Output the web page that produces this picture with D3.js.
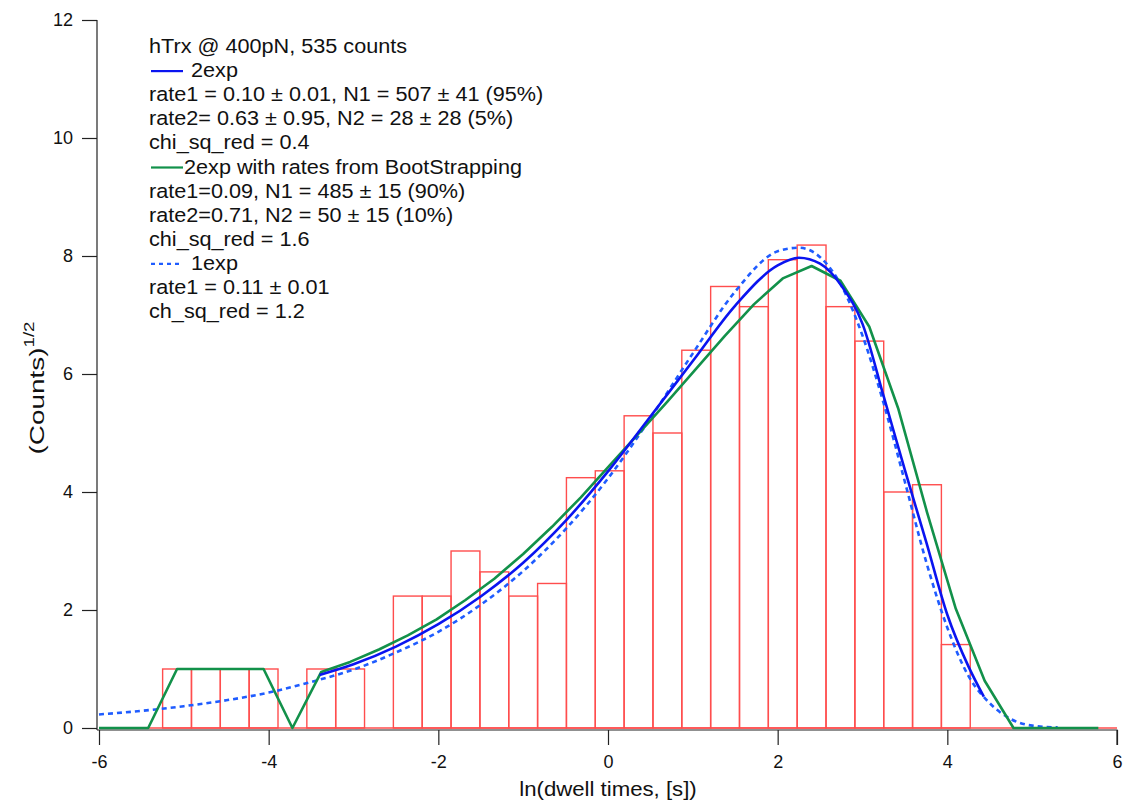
<!DOCTYPE html>
<html>
<head>
<meta charset="utf-8">
<script src="https://cdn.jsdelivr.net/npm/d3@7"></script>
<style>
  body { margin: 0; background: #fff; }
  svg { display: block; font-family: "Liberation Sans", Arial, sans-serif; }
</style>
</head>
<body>
<svg id="chart"></svg>
<script>
// histogram of ln(dwell times): bin edges and raw counts (plotted as sqrt)
const binEdges = [-5.25, -4.91, -4.57, -4.23, -3.89, -3.55, -3.21, -2.87, -2.53, -2.19,
  -1.85, -1.51, -1.17, -0.83, -0.49, -0.15, 0.19, 0.53, 0.87, 1.21, 1.55, 1.89, 2.23,
  2.57, 2.91, 3.25, 3.59, 3.93, 4.27];
const binCounts = [1, 1, 1, 1, 0, 1, 1, 0, 5, 5, 9, 7, 5, 6, 18, 19, 28, 25, 41, 56,
  51, 63, 67, 51, 43, 16, 17, 2];

// 2exp fit (blue solid)
const fit2X = [-3.40, -3.0, -2.5, -2.0, -1.5, -1.0, -0.5, 0.0, 0.5, 1.0, 1.5, 2.0, 2.25,
  2.5, 2.75, 3.0, 3.25, 3.5, 3.75, 4.0, 4.25, 4.43];
const fit2Y = [0.90, 1.08, 1.38, 1.76, 2.23, 2.80, 3.51, 4.35, 5.28, 6.22, 7.16, 7.84,
  7.97, 7.87, 7.50, 6.85, 5.62, 4.37, 3.16, 1.92, 1.04, 0.53];

// 2exp with bootstrapped rates (green), evaluated at bin centres
const bootX = [-6.0, -5.42, -5.08, -4.74, -4.40, -4.06, -3.72, -3.38, -3.04, -2.70, -2.36,
  -2.02, -1.68, -1.34, -1.00, -0.66, -0.32, 0.02, 0.36, 0.70, 1.04, 1.38, 1.72, 2.06,
  2.40, 2.74, 3.08, 3.42, 3.76, 4.10, 4.44, 4.78, 5.12, 5.46, 5.78];
const bootY = [0, 0, 1, 1, 1, 1, 0, 0.95, 1.12, 1.33, 1.57, 1.84, 2.17, 2.53, 2.95, 3.41,
  3.91, 4.45, 4.99, 5.53, 6.09, 6.65, 7.18, 7.62, 7.83, 7.58, 6.80, 5.42, 3.66, 2.02,
  0.80, 0, 0, 0, 0];

// 1exp fit (blue dashed)
const fit1X = [-6, -5.5, -5, -4.5, -4, -3.5, -3, -2.5, -2, -1.5, -1, -0.5, 0, 0.5, 1,
  1.5, 2, 2.25, 2.5, 2.75, 3, 3.25, 3.5, 3.75, 4, 4.25, 4.5, 4.75, 5, 5.3];
const fit1Y = [0.23, 0.29, 0.37, 0.47, 0.60, 0.78, 0.99, 1.28, 1.63, 2.09, 2.66, 3.37,
  4.23, 5.25, 6.35, 7.40, 8.08, 8.14, 7.98, 7.50, 6.65, 5.50, 4.17, 2.82, 1.70, 0.88,
  0.42, 0.15, 0.04, 0.01];

const xTicks = [-6, -4, -2, 0, 2, 4, 6];
const yTicks = [0, 2, 4, 6, 8, 10, 12];

const legendLines = [
  { text: "hTrx @ 400pN, 535 counts" },
  { text: "2exp", key: "fit2" },
  { text: "rate1 = 0.10 \u00b1 0.01, N1 = 507 \u00b1 41 (95%)" },
  { text: "rate2= 0.63 \u00b1 0.95, N2 = 28 \u00b1 28 (5%)" },
  { text: "chi_sq_red = 0.4" },
  { text: "2exp with rates from BootStrapping", key: "boot" },
  { text: "rate1=0.09, N1 = 485 \u00b1 15 (90%)" },
  { text: "rate2=0.71, N2 = 50 \u00b1 15 (10%)" },
  { text: "chi_sq_red = 1.6" },
  { text: "1exp", key: "fit1" },
  { text: "rate1 = 0.11 \u00b1 0.01" },
  { text: "ch_sq_red = 1.2" }
];

const W = 1123, H = 803;
const colors = { hist: "#ff4d4d", fit2: "#0a14f0", boot: "#12914a", fit1: "#1f5cff", axis: "#222" };
const stretch = 1.11; // the source font is drawn a little wider than Liberation Sans

const svg = d3.select("#chart").attr("width", W).attr("height", H);
svg.append("rect").attr("width", W).attr("height", H).attr("fill", "#fff");

const x = d3.scaleLinear().domain([-6, 6]).range([99, 1117]);
const y = d3.scaleLinear().domain([0, 12]).range([728, 20]);

// axes (Igor style: outward ticks, offset a couple of px from the data)
const axisX = svg.append("g").attr("transform", `translate(0,${y(0) + 2})`)
  .call(d3.axisBottom(x).tickValues(xTicks).tickSize(15).tickPadding(10).tickFormat(d => String(d)));
axisX.select(".domain").attr("d", `M${x(-6) - 2},0H${x(6)}V15`);

const axisY = svg.append("g").attr("transform", `translate(${x(-6) - 2},0)`)
  .call(d3.axisLeft(y).tickValues(yTicks).tickSize(15).tickPadding(9).tickFormat(d => String(d)));
axisY.select(".domain").attr("d", `M0,${y(12)}V${y(0) + 2}`);

svg.selectAll(".domain, .tick line").attr("stroke", colors.axis).attr("stroke-width", 1.2);
svg.selectAll(".tick text").attr("fill", "#111").style("font-size", "18px")
  .style("font-family", "'Liberation Sans', Arial, sans-serif");

// axis titles
svg.append("text").attr("transform", `translate(${x(0)},796) scale(${stretch},1)`)
  .attr("text-anchor", "middle").style("font-size", "20px").attr("fill", "#111")
  .text("ln(dwell times, [s])");

const yTitle = svg.append("text").attr("transform", `translate(44,388) rotate(-90) scale(1.33,1)`)
  .attr("text-anchor", "middle").style("font-size", "21px").attr("fill", "#111");
yTitle.append("tspan").text("(Counts)");
yTitle.append("tspan").attr("dy", -10).style("font-size", "14px").text("1/2");

// histogram bars
const bars = binCounts.map((c, i) => ({ x0: binEdges[i], x1: binEdges[i + 1], v: Math.sqrt(c) }))
  .filter(d => d.v > 0);

svg.append("line").attr("x1", x(-6)).attr("x2", x(6)).attr("y1", y(0)).attr("y2", y(0))
  .attr("stroke", colors.hist).attr("stroke-width", 1.4);

svg.append("g").selectAll("rect").data(bars).enter().append("rect")
  .attr("x", d => x(d.x0)).attr("y", d => y(d.v))
  .attr("width", d => x(d.x1) - x(d.x0)).attr("height", d => y(0) - y(d.v))
  .attr("fill", "none").attr("stroke", colors.hist).attr("stroke-width", 1.4);

// fit curves
const smooth = d3.line().x(d => x(d[0])).y(d => y(d[1])).curve(d3.curveMonotoneX);
const straight = d3.line().x(d => x(d[0])).y(d => y(d[1]));

svg.append("path").datum(d3.zip(fit1X, fit1Y)).attr("d", smooth)
  .attr("fill", "none").attr("stroke", colors.fit1).attr("stroke-width", 2.6)
  .attr("stroke-dasharray", "5,4");

svg.append("path").datum(d3.zip(bootX, bootY)).attr("d", straight)
  .attr("fill", "none").attr("stroke", colors.boot).attr("stroke-width", 2.6)
  .attr("stroke-linejoin", "round");

svg.append("path").datum(d3.zip(fit2X, fit2Y)).attr("d", smooth)
  .attr("fill", "none").attr("stroke", colors.fit2).attr("stroke-width", 2.6);

// legend text block
const legend = svg.append("g").attr("transform", "translate(149,53)");
legendLines.forEach((l, i) => {
  const ly = i * 24.1;
  let tx = 0;
  if (l.key) {
    legend.append("line").attr("x1", 2).attr("x2", 34).attr("y1", ly - 6).attr("y2", ly - 6)
      .attr("stroke", colors[l.key]).attr("stroke-width", 2.2)
      .attr("stroke-dasharray", l.key === "fit1" ? "4,4" : null);
    tx = l.key === "boot" ? 35 : 42;
  }
  legend.append("text").attr("transform", `translate(${tx},${ly}) scale(${stretch},1)`)
    .style("font-size", "19.5px").attr("fill", "#111").text(l.text);
});
</script>
</body>
</html>
